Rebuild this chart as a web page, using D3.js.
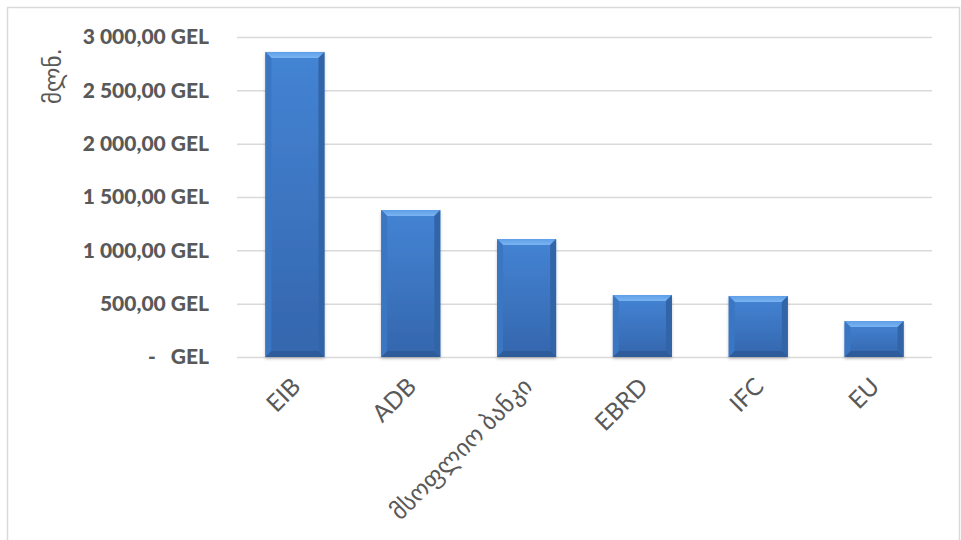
<!DOCTYPE html>
<html><head><meta charset="utf-8">
<script src="https://cdn.jsdelivr.net/npm/d3@7"></script>
<style>body{margin:0;background:#fff}svg{display:block}</style>
</head><body>
<svg id="c" width="961" height="540"></svg>
<script>
const categories = ["EIB", "ADB", "მსოფლიო ბანკი", "EBRD", "IFC", "EU"];
const values = [2860, 1378, 1106, 581, 572, 337];
const yTicks = [0, 500, 1000, 1500, 2000, 2500, 3000];
const yTickLabels = ["-   GEL", "500,00 GEL", "1 000,00 GEL", "1 500,00 GEL", "2 000,00 GEL", "2 500,00 GEL", "3 000,00 GEL"];
const yTitle = "მლნ.";

const svg = d3.select("#c");
const W = 961, H = 540;
const m = {left: 237, right: 29, top: 37, bottom: 183};
const x = d3.scaleBand().domain(categories).range([m.left, W - m.right]).paddingInner(0.49).paddingOuter(0.245);
const y = d3.scaleLinear().domain([0, 3000]).range([H - m.bottom, m.top]);

// frame
svg.append("rect").attr("x", 7.5).attr("y", 7.5).attr("width", 952).attr("height", 540).attr("fill", "#fff").attr("stroke", "#d9d9d9").attr("stroke-width", 1.5);

const defs = svg.append("defs");
const face = defs.append("linearGradient").attr("id", "face").attr("x1", 0).attr("y1", 0).attr("x2", 0).attr("y2", 1);
face.append("stop").attr("offset", "0%").attr("stop-color", "#4484d4");
face.append("stop").attr("offset", "100%").attr("stop-color", "#3466ad");
const topGrad = defs.append("linearGradient").attr("id", "topg").attr("x1", 0).attr("y1", 0).attr("x2", 0).attr("y2", 1);
topGrad.append("stop").attr("offset", "0%").attr("stop-color", "#5e9fe8");
topGrad.append("stop").attr("offset", "100%").attr("stop-color", "#7ab3f0");
const f = defs.append("filter").attr("id", "sh").attr("x", "-20%").attr("y", "-5%").attr("width", "140%").attr("height", "115%");
f.append("feDropShadow").attr("dx", 0).attr("dy", 2).attr("stdDeviation", 1.8).attr("flood-color", "#000").attr("flood-opacity", 0.22);

// gridlines
const yAxis = d3.axisLeft(y).tickValues(yTicks).tickSize(-(W - m.left - m.right)).tickFormat((d, i) => yTickLabels[i]).tickPadding(28);
const gy = svg.append("g").attr("transform", `translate(${m.left},0)`).call(yAxis);
gy.select(".domain").remove();
gy.selectAll(".tick line").attr("stroke", "#d9d9d9").attr("stroke-width", 1.5);
gy.selectAll(".tick text").attr("fill", "#595959").style("white-space", "pre").attr("xml:space", "preserve")
  .style("font-family", "Lato, 'DejaVu Sans', sans-serif").style("font-weight", "900").style("font-size", "21px");

// bars
const b = 6;
const bars = svg.append("g").selectAll("g").data(values).join("g").attr("filter", "url(#sh)");
bars.each(function(v, i) {
  const g = d3.select(this);
  const x0 = x(categories[i]), x1 = x0 + x.bandwidth(), y0 = y(v), y1 = y(0);
  g.append("rect").attr("x", x0).attr("y", y0).attr("width", x1 - x0).attr("height", y1 - y0).attr("fill", "url(#face)");
  const poly = (pts, c) => g.append("polygon").attr("points", pts.map(p => p.join(",")).join(" ")).attr("fill", c);
  poly([[x0, y0], [x1, y0], [x1 - b, y0 + b], [x0 + b, y0 + b]], "url(#topg)");
  poly([[x1, y0], [x1, y1], [x1 - b, y1 - b], [x1 - b, y0 + b]], "#3365a8");
  poly([[x0, y1], [x1, y1], [x1 - b, y1 - b], [x0 + b, y1 - b]], "#2f5c9a");
  poly([[x0, y0], [x0, y1], [x0 + b, y1 - b], [x0 + b, y0 + b]], "#3b76c2");
});

// x labels
const xAxis = d3.axisBottom(x).tickSize(0).tickPadding(0);
const gx = svg.append("g").attr("transform", `translate(0,${y(0)})`).call(xAxis);
gx.select(".domain").remove();
gx.selectAll(".tick text")
  .attr("fill", "#595959").style("font-family", "Lato, 'DejaVu Sans', sans-serif").style("font-size", "24px")
  .attr("text-anchor", "end").attr("dy", 0).attr("y", 0)
  .attr("transform", "translate(7,31) rotate(-45)");

// y title
svg.append("text").attr("transform", "translate(61,76) rotate(-90)").attr("text-anchor", "middle")
  .attr("fill", "#595959").style("font-family", "'DejaVu Sans', sans-serif").style("font-size", "23px").text(yTitle);
</script>
</body></html>
